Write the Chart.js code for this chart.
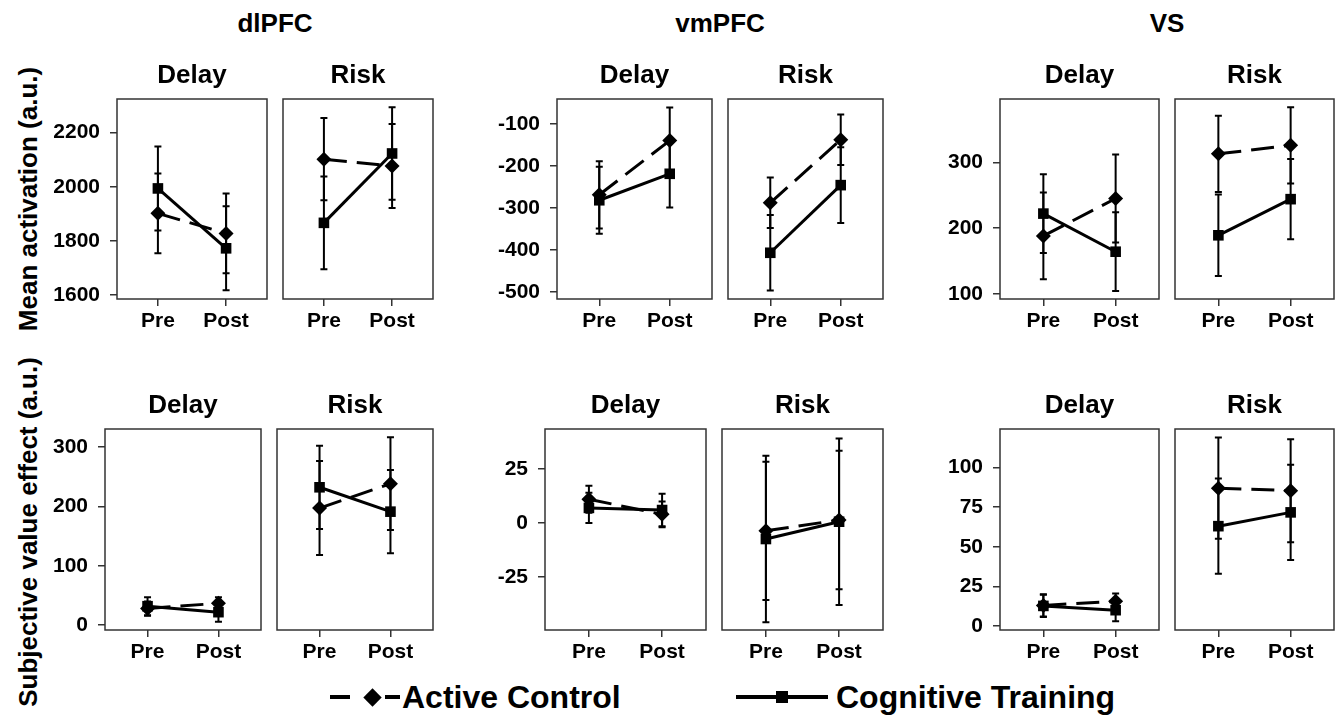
<!DOCTYPE html>
<html><head><meta charset="utf-8">
<script src="https://cdn.jsdelivr.net/npm/chart.js@4.4.1/dist/chart.umd.min.js"></script>
<style>
html,body{margin:0;padding:0;background:#fff;}
#wrap{position:relative;width:1341px;height:728px;overflow:hidden;font-family:'Liberation Sans',Arial,Helvetica,sans-serif;font-weight:bold;color:#000;background:#fff;}
canvas{position:absolute;}
.rt{position:absolute;font-size:26px;font-weight:bold;line-height:1;white-space:nowrap;transform:translateX(-50%);}
.yl{position:absolute;font-size:26px;font-weight:bold;line-height:1;white-space:nowrap;transform:translate(-50%,-50%) rotate(-90deg);}
.lg{position:absolute;background:#000;}
.lt{position:absolute;font-size:32px;font-weight:bold;line-height:1;white-space:nowrap;}
</style>
</head><body>
<div id="wrap">
  <div class="rt" style="left:275px;top:10px;">dlPFC</div>
  <div class="rt" style="left:720px;top:10px;">vmPFC</div>
  <div class="rt" style="left:1167px;top:10px;">VS</div>
  <div class="yl" style="left:28px;top:199px;">Mean activation (a.u.)</div>
  <div class="yl" style="left:28px;top:532px;">Subjective value effect (a.u.)</div>
  <div id="legend"></div>
</div>
<script>
// ---------- DATA ----------
const categories = ['Pre', 'Post'];
const tasks = ['Delay', 'Risk'];
const regions = ['dlPFC', 'vmPFC', 'VS'];
const groupLabels = ['Active Control', 'Cognitive Training'];

// Each series: [Delay-Pre, Delay-Post, Risk-Pre, Risk-Post]
// Row 1: Mean activation (a.u.)
const dlpfcMeanAC    = [1902, 1828, 2102, 2077];
const dlpfcMeanACErr = [147, 147, 152, 155];
const dlpfcMeanCT    = [1994, 1773, 1867, 2123];
const dlpfcMeanCTErr = [155, 155, 171, 171];

const vmpfcMeanAC    = [-269, -140, -288, -138];
const vmpfcMeanACErr = [80, 79, 60, 60];
const vmpfcMeanCT    = [-282, -219, -407, -246];
const vmpfcMeanCTErr = [80, 80, 90, 90];

const vsMeanAC    = [188, 245, 313, 326];
const vsMeanACErr = [66, 67, 58, 58];
const vsMeanCT    = [222, 164, 189, 244];
const vsMeanCTErr = [60, 60, 62, 61];

// Row 2: Subjective value effect (a.u.)
const dlpfcSvAC    = [28, 37, 197, 238];
const dlpfcSvACErr = [12, 10, 79, 78];
const dlpfcSvCT    = [32, 22, 232, 191];
const dlpfcSvCTErr = [15, 16, 70, 70];

const vmpfcSvAC    = [11, 4, -3.6, 1.4];
const vmpfcSvACErr = [6.3, 6, 32, 32];
const vmpfcSvCT    = [7, 6, -7.4, 0.6];
const vmpfcSvCTErr = [7, 7.5, 38.5, 38.5];

const vsSvAC    = [13, 15.6, 87, 85.4];
const vsSvACErr = [7, 5, 32, 32.5];
const vsSvCT    = [12.7, 10, 63, 71.7];
const vsSvCTErr = [7, 7, 30, 30];

// Tick labels
const dlpfcMeanTicks = [1600, 1800, 2000, 2200];
const vmpfcMeanTicks = [-500, -400, -300, -200, -100];
const vsMeanTicks    = [100, 200, 300];
const dlpfcSvTicks   = [0, 100, 200, 300];
const vmpfcSvTicks   = [-25, 0, 25];
const vsSvTicks      = [0, 25, 50, 75, 100];

// ---------- LAYOUT (pixel geometry of panels) ----------
const rows = [
  { top: 99, bottom: 299, sets: [
    { ac: dlpfcMeanAC, acErr: dlpfcMeanACErr, ct: dlpfcMeanCT, ctErr: dlpfcMeanCTErr, ticks: dlpfcMeanTicks, min: 1586, max: 2324, boxes: [[117, 267], [283, 433]] },
    { ac: vmpfcMeanAC, acErr: vmpfcMeanACErr, ct: vmpfcMeanCT, ctErr: vmpfcMeanCTErr, ticks: vmpfcMeanTicks, min: -517, max: -41, boxes: [[557, 712], [728, 883]] },
    { ac: vsMeanAC, acErr: vsMeanACErr, ct: vsMeanCT, ctErr: vsMeanCTErr, ticks: vsMeanTicks, min: 92, max: 396.5, boxes: [[1000, 1159], [1175, 1334]] }
  ]},
  { top: 429, bottom: 630, sets: [
    { ac: dlpfcSvAC, acErr: dlpfcSvACErr, ct: dlpfcSvCT, ctErr: dlpfcSvCTErr, ticks: dlpfcSvTicks, min: -8, max: 330, boxes: [[105, 261], [277, 433]] },
    { ac: vmpfcSvAC, acErr: vmpfcSvACErr, ct: vmpfcSvCT, ctErr: vmpfcSvCTErr, ticks: vmpfcSvTicks, min: -49.5, max: 43.5, boxes: [[545, 706], [722, 883]] },
    { ac: vsSvAC, acErr: vsSvACErr, ct: vsSvCT, ctErr: vsSvCTErr, ticks: vsSvTicks, min: -2.5, max: 124.3, boxes: [[1000, 1159], [1175, 1334]] }
  ]}
];

const FONT = "'Liberation Sans', Arial, Helvetica, sans-serif";
Chart.defaults.font.family = FONT;
Chart.defaults.font.weight = 'bold';
Chart.defaults.color = '#000';

const errorBarPlugin = {
  id: 'errorBars',
  beforeDatasetsDraw(chart) {
    const ctx = chart.ctx, ys = chart.scales.y;
    ctx.save();
    ctx.strokeStyle = '#000';
    ctx.lineWidth = 2;
    chart.data.datasets.forEach((ds, di) => {
      const meta = chart.getDatasetMeta(di);
      meta.data.forEach((pt, i) => {
        const v = ds.data[i].y, e = ds.errors[i];
        const y1 = ys.getPixelForValue(v + e), y2 = ys.getPixelForValue(v - e);
        const x = pt.x;
        ctx.beginPath();
        ctx.moveTo(x, y1); ctx.lineTo(x, y2);
        ctx.moveTo(x - 3.5, y1); ctx.lineTo(x + 3.5, y1);
        ctx.moveTo(x - 3.5, y2); ctx.lineTo(x + 3.5, y2);
        ctx.stroke();
      });
    });
    ctx.restore();
  }
};

const boxPlugin = {
  id: 'panelBox',
  afterDraw(chart, args, opts) {
    const a = chart.chartArea, ctx = chart.ctx;
    ctx.save();
    ctx.strokeStyle = '#333';
    ctx.lineWidth = 1.5;
    ctx.strokeRect(a.left, a.top, a.right - a.left, a.bottom - a.top);
    ctx.fillStyle = '#000';
    ctx.font = 'bold 26px ' + FONT;
    ctx.textAlign = 'center';
    ctx.textBaseline = 'alphabetic';
    ctx.fillText(opts.text, (a.left + a.right) / 2, a.top - 16);
    ctx.restore();
  }
};

const wrap = document.getElementById('wrap');
const padL = 70, padR = 8, padT = 50, padB = 45;

function makePanel(row, set, t) {
  const box = set.boxes[t];
  const idx = t * 2;
  const W = box[1] - box[0] + padL + padR;
  const H = row.bottom - row.top + padT + padB;
  const cv = document.createElement('canvas');
  cv.width = W; cv.height = H;
  cv.style.left = (box[0] - padL) + 'px';
  cv.style.top = (row.top - padT) + 'px';
  cv.style.width = W + 'px'; cv.style.height = H + 'px';
  wrap.appendChild(cv);
  const showY = t === 0;
  const mk = (arr, err) => ({
    data: categories.map((c, i) => ({ x: i + 1, y: arr[idx + i] })),
    errors: categories.map((c, i) => err[idx + i])
  });
  const ctd = mk(set.ct, set.ctErr), acd = mk(set.ac, set.acErr);
  new Chart(cv, {
    type: 'line',
    data: {
      datasets: [
        { label: groupLabels[1], data: ctd.data, errors: ctd.errors, borderColor: '#000', backgroundColor: '#000',
          borderWidth: 3, pointStyle: 'rect', pointRadius: 7.5, pointBorderWidth: 0, pointBackgroundColor: '#000' },
        { label: groupLabels[0], data: acd.data, errors: acd.errors, borderColor: '#000', backgroundColor: '#000',
          borderWidth: 3, borderDash: [23, 10], pointStyle: 'rectRot', pointRadius: 7.5, pointBorderWidth: 0, pointBackgroundColor: '#000' }
      ]
    },
    options: {
      responsive: false, animation: false, devicePixelRatio: 1,
      events: [],
      layout: { padding: { top: padT, right: padR, left: 0, bottom: 0 } },
      plugins: { legend: { display: false }, tooltip: { enabled: false }, panelBox: { text: tasks[t] } },
      scales: {
        x: {
          type: 'linear', min: 0.4, max: 2.6,
          afterBuildTicks: s => { s.ticks = categories.map((c, i) => ({ value: i + 1 })); },
          afterFit: s => { s.height = padB; },
          ticks: { callback: v => categories[v - 1] || '', font: { size: 21, weight: 'bold' }, color: '#000', padding: 3, maxRotation: 0 },
          grid: { display: true, drawOnChartArea: false, drawTicks: true, tickLength: 7, color: '#333', lineWidth: 1.5 },
          border: { display: false }
        },
        y: {
          type: 'linear', min: set.min, max: set.max,
          afterBuildTicks: s => { s.ticks = set.ticks.map(v => ({ value: v })); },
          afterFit: s => { s.width = padL; },
          ticks: { display: showY, callback: v => String(v), font: { size: 21, weight: 'bold' }, color: '#000', padding: 10 },
          grid: { display: showY, drawOnChartArea: false, drawTicks: true, tickLength: 7, color: '#333', lineWidth: 1.5 },
          border: { display: false }
        }
      }
    },
    plugins: [errorBarPlugin, boxPlugin]
  });
}

rows.forEach(row => row.sets.forEach(set => tasks.forEach((task, t) => makePanel(row, set, t))));

// ---------- LEGEND ----------
const lg = document.getElementById('legend');
lg.innerHTML =
  '<div class="lg" style="left:330px;top:695px;width:20px;height:4px;"></div>' +
  '<div class="lg" style="left:366px;top:691px;width:13px;height:13px;transform:rotate(45deg);"></div>' +
  '<div class="lg" style="left:385px;top:695px;width:15px;height:4px;"></div>' +
  '<div class="lt" style="left:402px;top:681px;">' + groupLabels[0] + '</div>' +
  '<div class="lg" style="left:736px;top:695px;width:92px;height:4px;"></div>' +
  '<div class="lg" style="left:776px;top:691px;width:12px;height:12px;"></div>' +
  '<div class="lt" style="left:836px;top:681px;">' + groupLabels[1] + '</div>';
</script>
</body></html>
